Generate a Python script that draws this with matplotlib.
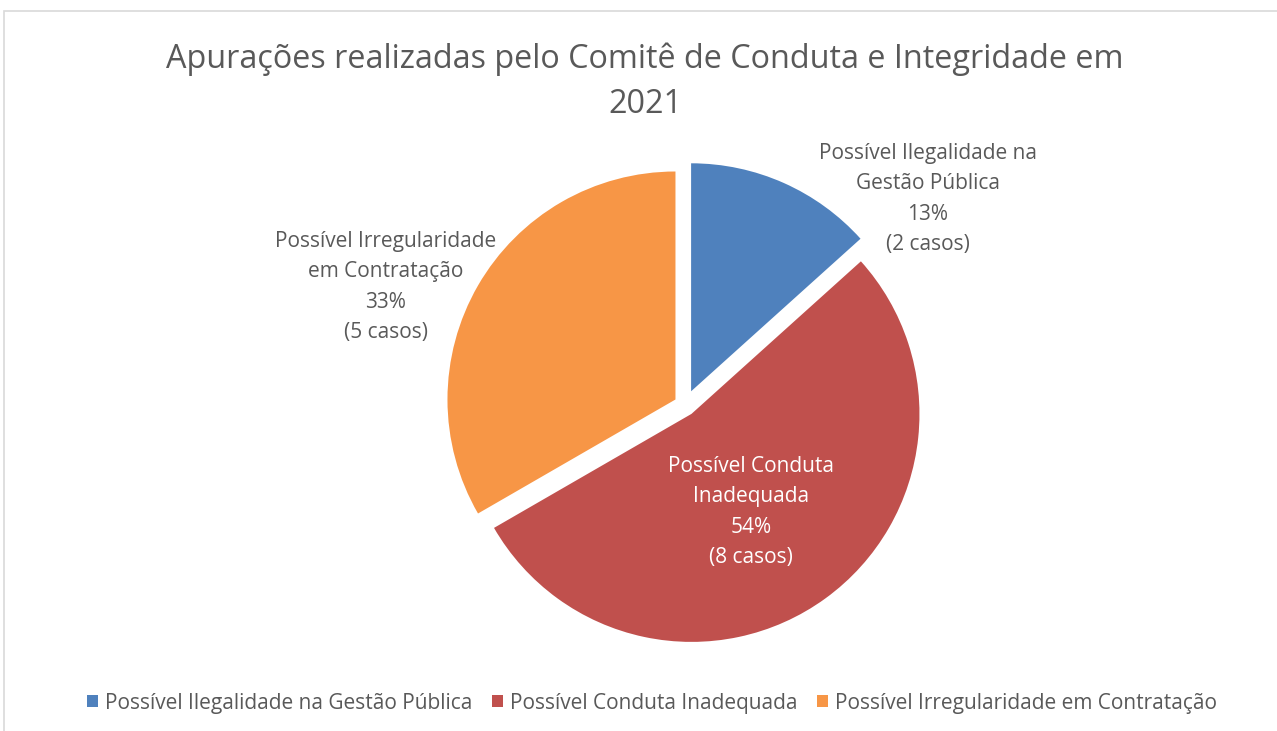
import matplotlib
matplotlib.use("Agg")
import matplotlib.pyplot as plt
from matplotlib.patches import Rectangle

# data
categories = ["Possível Ilegalidade na Gestão Pública",
              "Possível Conduta Inadequada",
              "Possível Irregularidade em Contratação"]
casos = [2, 8, 5]
pct_labels = ["13%", "54%", "33%"]
label_names = ["Possível Ilegalidade na\nGestão Pública",
               "Possível Conduta\nInadequada",
               "Possível Irregularidade\nem Contratação"]
colors = ["#4F81BD", "#C0504D", "#F79646"]
title = "Apurações realizadas pelo Comitê de Conduta e Integridade em\n2021"

W, H = 1277, 731
plt.rcParams["font.family"] = ["Open Sans", "DejaVu Sans"]
txt_color = "#595959"

fig = plt.figure(figsize=(W / 100, H / 100), dpi=100)
fig.patch.set_facecolor("white")

# chart area border (pixel coords, y from top)
fig.patches.append(Rectangle((4 / W, -0.05), 1.1, 1 - 11 / H + 0.05,
                             transform=fig.transFigure, fill=False,
                             edgecolor="#D9D9D9", linewidth=1.2))

# axes covering the whole figure, one data unit = one pixel
ax = fig.add_axes([0, 0, 1, 1])
cx, cy, r = 685, H - 405, 228
# explode offsets are in data units (pixels here)
wedges, _ = ax.pie(casos, colors=colors, startangle=90, counterclock=False,
                   center=(cx, cy), radius=r, explode=[15, 11, 11],
                   wedgeprops=dict(linewidth=0))
ax.set_xlim(0, W)
ax.set_ylim(0, H)
ax.set_axis_off()

# data labels (positions in pixels from top-left)
label_pos = [(928, 199), (751, 512), (386, 287)]
label_col = [txt_color, "white", txt_color]
for name, pct, n, (x, y), c in zip(label_names, pct_labels, casos,
                                   label_pos, label_col):
    ax.text(x, H - y, "{}\n{}\n({} casos)".format(name, pct, n),
            ha="center", va="center", fontsize=15, color=c,
            linespacing=1.6)

fig.text(645 / W, 1 - 82 / H, title, ha="center", va="center",
         fontsize=23.3, color=txt_color, linespacing=1.46)

leg = fig.legend(wedges, categories, loc="center", ncol=3,
                 bbox_to_anchor=(652 / W, 28 / H), frameon=False,
                 fontsize=15, handlelength=0.5, handleheight=0.5,
                 handletextpad=0.35, columnspacing=0.95)
for t in leg.get_texts():
    t.set_color(txt_color)

fig.savefig("out.png", dpi=100)
